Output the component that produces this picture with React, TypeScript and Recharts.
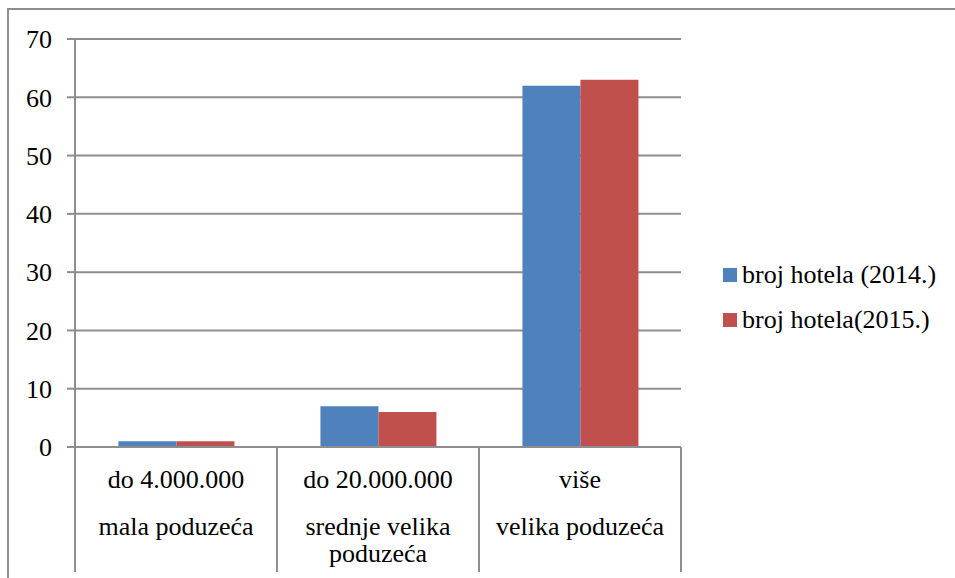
import React from 'react';
import { BarChart, Bar, XAxis, YAxis, CartesianGrid } from 'recharts';

const rangeLabels = ['do 4.000.000', 'do 20.000.000', 'više'];
const sizeLabels = ['mala poduzeća', 'srednje velika\npoduzeća', 'velika poduzeća'];
const seriesNames = ['broj hotela (2014.)', 'broj hotela(2015.)'];
const seriesColors = ['#4f81bd', '#c0504d'];
const hotels2014 = [1, 7, 62];
const hotels2015 = [1, 6, 63];
const yTicks = [0, 10, 20, 30, 40, 50, 60, 70];

const data = rangeLabels.map((r, i) => ({
    name: r,
    y2014: hotels2014[i],
    y2015: hotels2015[i],
}));

const W = 955;
const H = 578;
const FONT = '"Liberation Serif", "DejaVu Serif", "Times New Roman", serif';
const GRID = '#8e8e8e';
const left = 75;
const right = 681;
const band = (right - left) / rangeLabels.length;

const CategoryTick = (props: any) => {
    const { x, y, index } = props;
    const lines = sizeLabels[index].split('\n');
    return (
        <g>
            <line x1={x - band / 2} y1={y} x2={x - band / 2} y2={y + 125} stroke={GRID} strokeWidth={2} />
            {index === rangeLabels.length - 1 && (
                <line x1={x + band / 2} y1={y} x2={x + band / 2} y2={y + 125} stroke={GRID} strokeWidth={2} />
            )}
            <text x={x} y={y + 41} textAnchor="middle" fontSize={26} fontFamily={FONT} fill="#000">
                {rangeLabels[index]}
            </text>
            {lines.map((l, k) => (
                <text key={k} x={x} y={y + 88 + k * 27} textAnchor="middle" fontSize={26} fontFamily={FONT} fill="#000">
                    {l}
                </text>
            ))}
        </g>
    );
};

const App = () => (
    <div style={{ position: 'absolute', left: 0, top: 0, width: W, height: H, overflow: 'hidden', background: '#fff' }}>
        <div
            style={{
                position: 'absolute', left: 7, top: 8, width: W, height: H,
                borderTop: `2px solid ${GRID}`, borderLeft: `2px solid ${GRID}`,
            }}
        />
        <BarChart
            width={W}
            height={H}
            data={data}
            margin={{ top: 39, right: W - right, bottom: 6, left: 0 }}
            barCategoryGap="21.5%"
            barGap={0}
            style={{ position: 'absolute', left: 0, top: 0 }}
        >
            <CartesianGrid vertical={false} stroke={GRID} strokeWidth={2} />
            <XAxis
                dataKey="name"
                height={125}
                tickSize={0}
                tickMargin={0}
                tickLine={false}
                axisLine={{ stroke: GRID, strokeWidth: 2 }}
                tick={<CategoryTick />}
                interval={0}
            />
            <YAxis
                width={left}
                domain={[0, 70]}
                ticks={yTicks}
                tickSize={8}
                tickMargin={15}
                axisLine={{ stroke: GRID, strokeWidth: 2 }}
                tickLine={{ stroke: GRID, strokeWidth: 2 }}
                tick={{ fontSize: 26, fontFamily: FONT, fill: '#000' }}
            />
            <Bar dataKey="y2014" name={seriesNames[0]} fill={seriesColors[0]} isAnimationActive={false} />
            <Bar dataKey="y2015" name={seriesNames[1]} fill={seriesColors[1]} isAnimationActive={false} />
        </BarChart>
        <div style={{ position: 'absolute', left: 723, top: 252, fontFamily: FONT, fontSize: 26, color: '#000' }}>
            {seriesNames.map((n, i) => (
                <div key={n} style={{ display: 'flex', alignItems: 'center', height: 45, whiteSpace: 'nowrap' }}>
                    <span style={{ display: 'inline-block', width: 14, height: 14, background: seriesColors[i], marginRight: 5 }} />
                    <span>{n}</span>
                </div>
            ))}
        </div>
    </div>
);

export default App;
